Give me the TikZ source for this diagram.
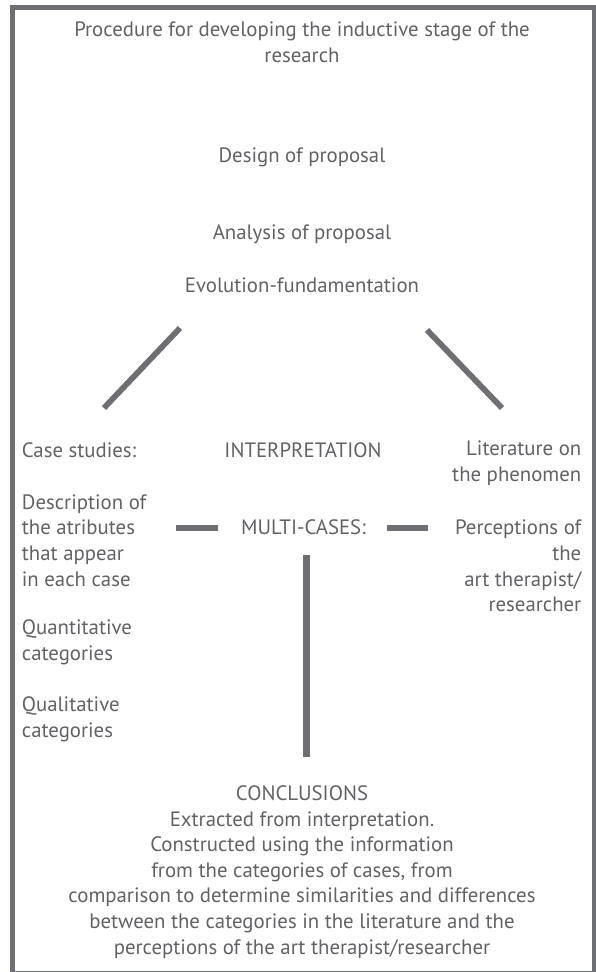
\documentclass[tikz,border=0pt]{standalone}
\usepackage{fontspec}
\setmainfont{PT Sans}
\definecolor{TextColor}{RGB}{98,98,102}
\definecolor{BarColor}{RGB}{110,111,115}
\usetikzlibrary{positioning, calc}
\tikzstyle{label} = [text=TextColor, inner sep=0pt, font=\fontsize{20.8}{25.6}\selectfont]
\tikzstyle{leftlabel} = [label, anchor=west, align=left]
\tikzstyle{rightlabel} = [label, anchor=east, align=right]
\tikzstyle{midlabel} = [label, align=center]
\tikzstyle{bar} = [BarColor, line width=5.8pt]
\tikzset{
  frame/.style={draw=BarColor, line width=5pt}
}
\begin{document}
\begin{tikzpicture}[x=1pt, y=-1pt]
    \useasboundingbox (0,0) rectangle (596,972);
    % Frame
    \draw[frame] (12.5,7.5) rectangle (594.5,973.5);

    % Upper part
    \node[midlabel] (title) at (302,42) {Procedure for developing the inductive stage of the\\research};
    \node[midlabel] (design) at (302,157) {Design of proposal};
    \node[midlabel] (analysis) at (302,234) {Analysis of proposal};
    \node[midlabel] (evolution) at (302,285) {Evolution-fundamentation};

    % Columns
    \node[leftlabel] (cases) at (21.7,450) {Case studies:};
    \node[midlabel] (interp) at (303,450) {INTERPRETATION};
    \node[rightlabel] (literature) at (581.5,463) {Literature on\\the phenomen};
    \node[leftlabel] (description) at (21.7,540.5) {Description of\\the atributes\\that appear\\in each case};
    \node[midlabel] (multi) at (303.5,527) {MULTI-CASES:};
    \node[rightlabel] (perceptions) at (581.5,566) {Perceptions of\\the\\art therapist/\\researcher};
    \node[leftlabel] (quanti) at (21.7,642.5) {Quantitative\\categories};
    \node[leftlabel] (quali) at (21.7,719.5) {Qualitative\\categories};

    % Conclusions
    \node[midlabel] (conclusions) at (302,872) {CONCLUSIONS\\Extracted from interpretation.\\Constructed using the information\\from the categories of cases, from\\comparison to determine similarities and differences\\between the categories in the literature and the\\perceptions of the art therapist/researcher};

    % Bar ends
    \coordinate (lefttop) at (180,328);
    \coordinate (leftbot) at (104,408);
    \coordinate (righttop) at (427,330);
    \coordinate (rightbot) at (502,408);
    \coordinate (lbarA) at (175.6,528);
    \coordinate (lbarB) at (217.8,528);
    \coordinate (rbarA) at (386.5,528);
    \coordinate (rbarB) at (428.4,528);
    \coordinate (vbarA) at (306.5,555);
    \coordinate (vbarB) at (306.5,757);

    % Bars
    \draw[bar] (lefttop) -- (leftbot);
    \draw[bar] (righttop) -- (rightbot);
    \draw[bar] (lbarA) -- (lbarB);
    \draw[bar] (rbarA) -- (rbarB);
    \draw[bar, line width=7pt] (vbarA) -- (vbarB);
\end{tikzpicture}
\end{document}
